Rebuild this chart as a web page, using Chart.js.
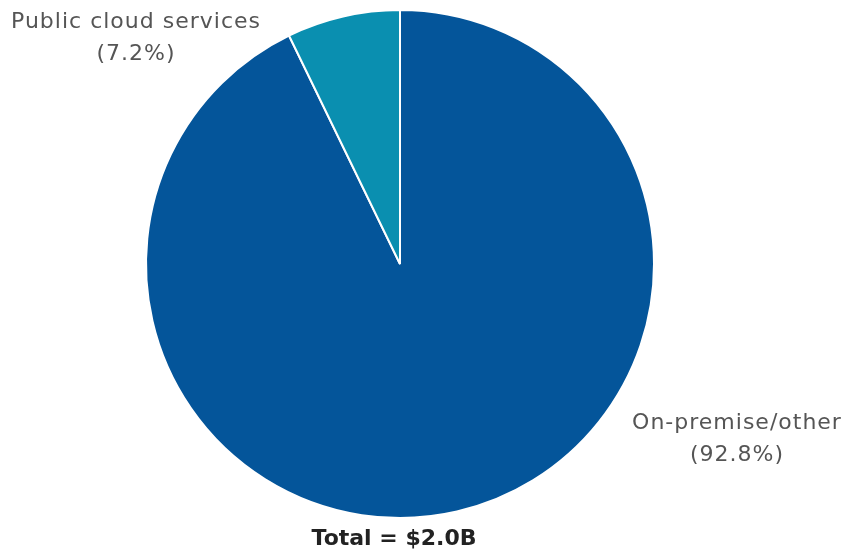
<!DOCTYPE html>
<html>
<head>
<meta charset="utf-8">
<script src="https://cdn.jsdelivr.net/npm/chart.js@4"></script>
<style>
  html, body { margin: 0; padding: 0; background: #fff; }
  #wrap { width: 848px; height: 555px; }
</style>
</head>
<body>
<div id="wrap"><canvas id="pieCanvas" width="848" height="555"></canvas></div>
<script>
// data
var categories = ["On-premise/other", "Public cloud services"];
var shares = [92.8, 7.2];
var sliceColors = ["#04559a", "#0a8fb0"];
var totalLabel = "Total = $2.0B";

// slice labels + total, drawn next to the pie
var labelPlugin = {
    id: "sliceLabels",
    afterDraw: function(chart) {
        var ctx = chart.ctx;
        var area = chart.chartArea;
        var cx = (area.left + area.right) / 2;
        ctx.save();
        ctx.textAlign = "center";
        ctx.textBaseline = "middle";
        ctx.fillStyle = "#555555";
        ctx.font = "22px 'DejaVu Sans'";
        ctx.letterSpacing = "1px";
        // public cloud, upper left
        ctx.fillText(categories[1], cx - 264, 22);
        ctx.fillText("(" + shares[1].toFixed(1) + "%)", cx - 264, 54);
        // on-premise, lower right
        ctx.fillText(categories[0], cx + 337, 423);
        ctx.fillText("(" + shares[0].toFixed(1) + "%)", cx + 337, 455);
        // total under the pie
        ctx.letterSpacing = "0px";
        ctx.fillStyle = "#222222";
        ctx.font = "bold 22px 'DejaVu Sans'";
        ctx.fillText(totalLabel, cx - 6, area.bottom + 20);
        ctx.restore();
    }
};

var canvas = document.getElementById("pieCanvas");
var pieChart = new Chart(canvas, {
    type: "pie",
    data: {
        labels: categories,
        datasets: [{
            data: shares,
            backgroundColor: sliceColors,
            borderColor: "#ffffff",
            borderWidth: 2
        }]
    },
    options: {
        responsive: false,
        animation: false,
        layout: { padding: { left: 145, right: 193, top: 9, bottom: 36 } },
        plugins: {
            legend: { display: false },
            tooltip: { enabled: false }
        }
    },
    plugins: [labelPlugin]
});
</script>
</body>
</html>
